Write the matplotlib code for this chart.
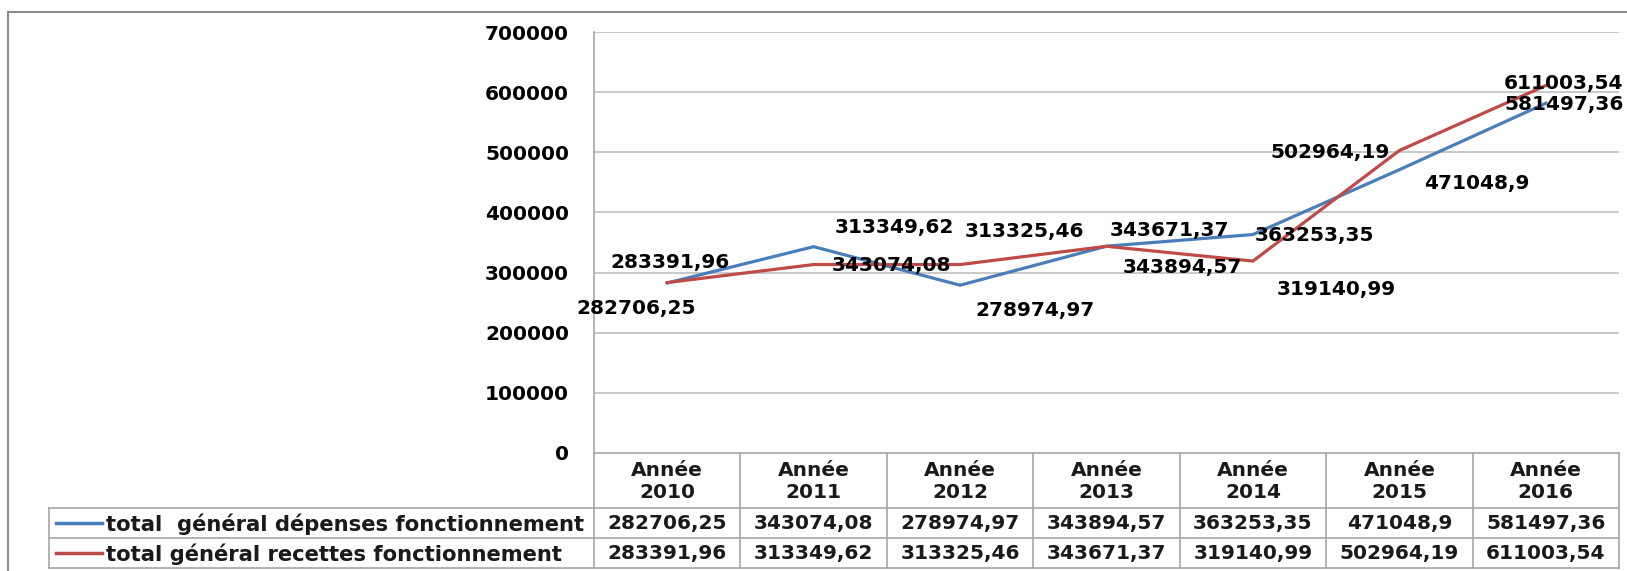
""" Line chart with an Excel-style data table below it. """

import matplotlib.pyplot as plt
from matplotlib import transforms

# Data.
years = ['Année\n2010', 'Année\n2011', 'Année\n2012', 'Année\n2013',
         'Année\n2014', 'Année\n2015', 'Année\n2016']
depenses = [282706.25, 343074.08, 278974.97, 343894.57, 363253.35, 471048.9, 581497.36]
recettes = [283391.96, 313349.62, 313325.46, 343671.37, 319140.99, 502964.19, 611003.54]
series_names = ['total  général dépenses fonctionnement',
                'total général recettes fonctionnement']
yticks = [0, 100000, 200000, 300000, 400000, 500000, 600000, 700000]

BLUE = '#4a7ebb'
RED = '#be4b48'
GRID = '#c0c0c0'
BORDER = '#a6a6a6'

W, H = 1627, 571
fig = plt.figure(figsize=(W / 100, H / 100), dpi=100)

# Plot area in pixels: left 594, right 1619, top 32, zero line 453.
ax = fig.add_axes([594 / W, (H - 453) / H, (1619 - 594) / W, (453 - 32) / H])
xs = [i + 0.5 for i in range(len(years))]
ax.plot(xs, depenses, color=BLUE, lw=2.3, solid_joinstyle='miter')
ax.plot(xs, recettes, color=RED, lw=2.3, solid_joinstyle='miter')
ax.set_xlim(0, len(years))
ax.set_ylim(0, 700000)
ax.set_yticks(yticks)
ax.set_yticklabels([str(t) for t in yticks], fontsize=14.5, fontweight='bold')
ax.tick_params(axis='y', length=0, pad=18)
ax.set_xticks([])
for t in yticks[1:]:
    ax.axhline(t, color=GRID, lw=1.2, zorder=0)
for side in ['top', 'right']:
    ax.spines[side].set_visible(False)
ax.spines['left'].set_color(BORDER)
ax.spines['bottom'].set_color(BORDER)
ax.spines['left'].set_linewidth(1.2)
ax.spines['bottom'].set_linewidth(1.2)

# Data labels, placed like in the original (offsets in pixels, y up).
def fmt(v):
    return str(v).replace('.', ',')

blue_off = [(-31, -26), (78, -19), (75, -25), (76, -21), (62, -1), (77, -14), (18, -1)]
red_off = [(3, 20), (81, 37), (64, 33), (63, 16), (83, -28), (-69, -2), (18, 2)]
for x, v, off in zip(xs, depenses, blue_off):
    ax.annotate(fmt(v), (x, v), xytext=off, textcoords='offset pixels',
                ha='center', va='center', fontsize=14.5, fontweight='bold',
                annotation_clip=False)
for x, v, off in zip(xs, recettes, red_off):
    ax.annotate(fmt(v), (x, v), xytext=off, textcoords='offset pixels',
                ha='center', va='center', fontsize=14.5, fontweight='bold',
                annotation_clip=False)

# Overlay axes in pixel coordinates for the table and the outer border.
ov = fig.add_axes([0, 0, 1, 1])
ov.set_xlim(0, W)
ov.set_ylim(H, 0)
ov.axis('off')
ov.patch.set_alpha(0)

# Outer chart border.
ov.plot([8, W], [12, 12], color='#8c8c8c', lw=1.5)
ov.plot([8, 8], [12, H], color='#8c8c8c', lw=1.5)

# x in data units of the plot, y in overlay pixels.
bt = transforms.blended_transform_factory(ax.transData, ov.transData)
row_edges = [453, 508, 538, 568]
n = len(years)

# Vertical column separators through the whole table.
for i in range(n + 1):
    ov.plot([i, i], [row_edges[0], row_edges[-1]], color=BORDER, lw=1.2,
            transform=bt, clip_on=False)
# Horizontal row lines across the value columns.
for y in row_edges[1:]:
    ov.plot([0, n], [y, y], color=BORDER, lw=1.2, transform=bt, clip_on=False)
# Legend column (left part) of the two series rows.
for y in row_edges[1:]:
    ov.plot([49, 594], [y, y], color=BORDER, lw=1.2)
ov.plot([49, 49], [row_edges[1], row_edges[-1]], color=BORDER, lw=1.2)

# Header: years.
for i, lab in enumerate(years):
    ov.text(i + 0.5, (row_edges[0] + row_edges[1]) / 2 + 1, lab, transform=bt,
            ha='center', va='center', fontsize=14.5, fontweight='bold',
            linespacing=1.15, color='#1a1a1a')

# Series rows.
for r, (vals, col, name) in enumerate([(depenses, BLUE, series_names[0]),
                                        (recettes, RED, series_names[1])]):
    yc = (row_edges[r + 1] + row_edges[r + 2]) / 2
    ov.plot([56, 102], [yc, yc], color=col, lw=2.5)
    ov.text(106, yc + 1, name, ha='left', va='center', fontsize=15.2,
            fontweight='bold', color='#1a1a1a')
    for i, v in enumerate(vals):
        ov.text(i + 0.5, yc + 1, fmt(v), transform=bt, ha='center', va='center',
                fontsize=14.5, fontweight='bold', color='#1a1a1a')

fig.savefig('out.png', dpi=100)
